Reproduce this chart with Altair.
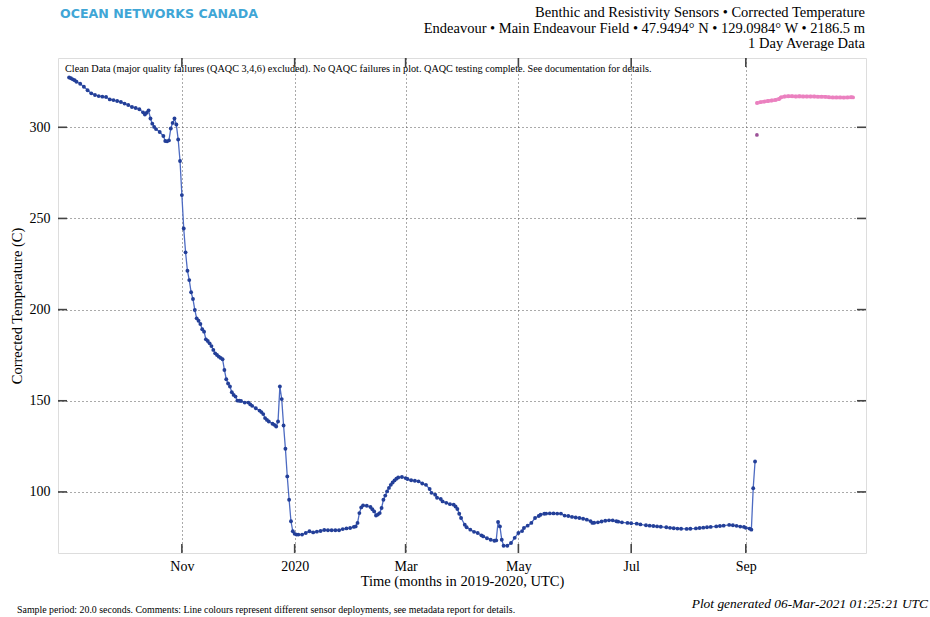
import altair as alt
import pandas as pd

# ---------------- data ----------------
blue_dates = [
    "2019-09-01", "2019-09-02", "2019-09-03", "2019-09-04", "2019-09-05", "2019-09-07", "2019-09-09",
    "2019-09-11", "2019-09-13", "2019-09-15", "2019-09-17", "2019-09-19", "2019-09-21", "2019-09-23",
    "2019-09-25", "2019-09-27", "2019-09-29", "2019-10-01", "2019-10-03", "2019-10-05", "2019-10-07",
    "2019-10-09", "2019-10-11", "2019-10-12", "2019-10-13", "2019-10-14", "2019-10-15", "2019-10-16",
    "2019-10-17", "2019-10-18", "2019-10-20", "2019-10-22", "2019-10-23", "2019-10-24", "2019-10-25",
    "2019-10-26", "2019-10-27", "2019-10-28", "2019-10-29", "2019-10-30", "2019-10-31",
    "2019-11-01", "2019-11-02", "2019-11-03", "2019-11-04", "2019-11-05", "2019-11-06", "2019-11-07",
    "2019-11-08", "2019-11-09", "2019-11-10", "2019-11-11", "2019-11-12", "2019-11-13", "2019-11-14",
    "2019-11-15", "2019-11-16", "2019-11-17", "2019-11-18", "2019-11-19", "2019-11-20", "2019-11-21",
    "2019-11-22", "2019-11-23", "2019-11-24", "2019-11-25", "2019-11-26", "2019-11-27", "2019-11-28",
    "2019-11-29", "2019-11-30", "2019-12-01", "2019-12-02", "2019-12-03", "2019-12-05", "2019-12-07",
    "2019-12-08", "2019-12-09", "2019-12-11", "2019-12-13", "2019-12-14", "2019-12-15", "2019-12-16",
    "2019-12-17", "2019-12-18", "2019-12-20", "2019-12-21", "2019-12-22", "2019-12-23", "2019-12-24",
    "2019-12-25", "2019-12-26", "2019-12-27", "2019-12-28", "2019-12-29", "2019-12-30", "2019-12-31",
    "2020-01-01", "2020-01-02", "2020-01-03", "2020-01-05", "2020-01-07", "2020-01-09", "2020-01-11",
    "2020-01-13", "2020-01-15", "2020-01-17", "2020-01-19", "2020-01-21", "2020-01-23", "2020-01-25",
    "2020-01-27", "2020-01-29", "2020-01-31", "2020-02-02", "2020-02-03", "2020-02-04", "2020-02-05",
    "2020-02-06", "2020-02-07", "2020-02-09", "2020-02-11", "2020-02-12", "2020-02-13", "2020-02-14",
    "2020-02-15", "2020-02-16", "2020-02-17", "2020-02-18", "2020-02-19", "2020-02-20", "2020-02-21",
    "2020-02-22", "2020-02-23", "2020-02-24", "2020-02-25", "2020-02-26", "2020-02-28", "2020-03-01",
    "2020-03-02", "2020-03-04", "2020-03-06", "2020-03-08", "2020-03-10", "2020-03-12", "2020-03-14",
    "2020-03-15", "2020-03-17", "2020-03-18", "2020-03-20", "2020-03-21", "2020-03-23", "2020-03-25",
    "2020-03-27", "2020-03-28", "2020-03-29", "2020-03-30", "2020-03-31", "2020-04-02", "2020-04-03",
    "2020-04-05", "2020-04-07", "2020-04-09", "2020-04-11", "2020-04-12", "2020-04-14", "2020-04-16",
    "2020-04-18", "2020-04-19", "2020-04-20", "2020-04-21", "2020-04-22", "2020-04-23", "2020-04-25",
    "2020-04-27", "2020-04-29", "2020-05-01", "2020-05-03", "2020-05-04", "2020-05-06", "2020-05-08",
    "2020-05-10", "2020-05-12", "2020-05-13", "2020-05-15", "2020-05-16", "2020-05-18", "2020-05-20",
    "2020-05-22", "2020-05-24", "2020-05-26", "2020-05-28", "2020-05-30", "2020-06-01", "2020-06-03",
    "2020-06-05", "2020-06-07", "2020-06-09", "2020-06-10", "2020-06-11", "2020-06-13", "2020-06-15",
    "2020-06-17", "2020-06-19", "2020-06-21", "2020-06-23", "2020-06-24", "2020-06-26", "2020-06-29",
    "2020-07-01", "2020-07-04", "2020-07-06", "2020-07-09", "2020-07-11", "2020-07-13", "2020-07-15",
    "2020-07-17", "2020-07-20", "2020-07-22", "2020-07-24", "2020-07-26", "2020-07-28", "2020-07-31",
    "2020-08-02", "2020-08-05", "2020-08-07", "2020-08-09", "2020-08-11", "2020-08-13", "2020-08-16",
    "2020-08-18", "2020-08-20", "2020-08-23", "2020-08-25", "2020-08-27", "2020-08-29", "2020-08-31",
    "2020-09-01", "2020-09-03", "2020-09-04", "2020-09-05", "2020-09-06",
]
blue_values = [
    327.3, 326.9, 326.3, 325.8, 325.0, 323.9, 322.2,
    320.3, 318.6, 317.7, 317.1, 316.8, 316.6, 315.3,
    314.9, 314.4, 313.9, 313.0, 312.2, 311.1, 310.6,
    309.9, 308.2, 307.0, 308.0, 309.3, 304.8, 302.0,
    300.2, 299.0, 297.4, 295.2, 292.5, 292.3, 292.8,
    299.3, 302.4, 304.8, 301.5, 293.3, 281.5,
    262.8, 244.5, 231.4, 221.3, 216.2, 209.5, 205.8,
    199.8, 195.2, 193.9, 192.1, 189.2, 187.9, 183.7,
    182.8, 181.5, 180.0, 177.9, 176.0, 175.1, 174.2,
    173.5, 172.8, 166.9, 161.8, 159.5, 157.8, 154.7,
    153.2, 152.3, 150.1, 150.0, 149.9, 149.0, 149.0,
    148.0, 147.2, 145.9, 144.6, 143.8, 142.7, 140.5,
    139.5, 138.6, 137.4, 136.8, 135.9, 138.6, 157.8,
    150.9, 136.4, 123.7, 108.5, 95.7, 83.9, 78.4,
    77.0, 76.6, 76.6, 76.6, 77.5, 78.4, 77.8,
    78.2, 78.6, 79.1, 79.0, 79.0, 79.0, 79.0,
    79.6, 80.0, 80.2, 80.8, 81.1, 83.0, 88.4,
    91.5, 92.6, 92.4, 91.7, 90.5, 89.3, 87.1,
    87.6, 88.4, 91.2, 95.7, 98.0, 100.3, 102.2,
    103.9, 105.2, 106.3, 107.2, 107.9, 108.2, 107.6,
    107.1, 106.4, 106.1, 105.8, 104.6, 103.9, 101.6,
    99.5, 98.5, 96.8, 96.1, 94.8, 94.0, 93.3,
    93.0, 92.0, 90.6, 88.0, 85.7, 82.0, 80.6,
    79.3, 78.1, 77.5, 76.2, 75.6, 74.6, 73.8,
    73.2, 73.4, 83.5, 81.1, 73.8, 70.5, 70.5,
    72.0, 74.8, 77.5, 78.5, 80.2, 81.5, 83.0,
    85.7, 86.8, 87.5, 88.0, 88.1, 88.2, 88.2,
    88.1, 88.1, 87.0, 86.8, 86.3, 86.0, 85.7,
    85.3, 84.8, 84.0, 83.0, 83.1, 83.3, 83.8,
    84.2, 84.4, 84.4, 83.9, 83.7, 83.3, 83.0,
    82.8, 82.6, 82.2, 81.7, 81.5, 81.3, 81.1,
    80.9, 80.6, 80.3, 80.1, 79.9, 79.8, 79.7,
    79.8, 80.0, 80.2, 80.4, 80.6, 80.8, 81.1,
    81.3, 81.5, 81.9, 81.7, 81.4, 81.0, 80.8,
    80.3, 79.9, 79.3, 102.0, 116.7,
]

pink_dates = [
    "2020-09-07", "2020-09-09", "2020-09-11", "2020-09-13", "2020-09-15", "2020-09-17", "2020-09-19",
    "2020-09-20", "2020-09-22", "2020-09-24", "2020-09-26", "2020-09-28", "2020-09-30", "2020-10-02",
    "2020-10-04", "2020-10-06", "2020-10-08", "2020-10-10", "2020-10-12", "2020-10-14", "2020-10-16",
    "2020-10-18", "2020-10-20", "2020-10-22", "2020-10-24", "2020-10-26", "2020-10-28", "2020-10-29",
]
pink_values = [
    313.3, 313.8, 314.1, 314.4, 314.7, 315.0, 315.5,
    316.4, 316.9, 317.0, 317.0, 316.9, 317.0, 316.9,
    316.9, 316.9, 316.9, 316.8, 316.8, 316.7, 316.5,
    316.4, 316.4, 316.4, 316.3, 316.4, 316.5, 316.4,
]

purple_dates = ["2020-09-07"]
purple_values = [295.8]

y_tick_values = [100, 150, 200, 250, 300]
x_tick_dates = ["2019-11-01", "2020-01-01", "2020-03-01", "2020-05-01", "2020-07-01", "2020-09-01"]

title_lines = [
    "Benthic and Resistivity Sensors \u2022 Corrected Temperature",
    "Endeavour \u2022 Main Endeavour Field \u2022 47.9494\u00b0 N \u2022 129.0984\u00b0 W \u2022 2186.5 m",
    "1 Day Average Data",
]
logo_text = "OCEAN NETWORKS CANADA"
note_text = ("Clean Data (major quality failures (QAQC 3,4,6) excluded).  No QAQC failures in plot.  "
             "QAQC testing complete.  See documentation for details.")
footer_left = ("Sample period: 20.0 seconds. Comments: Line colours represent different sensor deployments, "
               "see metadata report for details.")
footer_right = "Plot generated 06-Mar-2021 01:25:21 UTC"

# ---------------- layout ----------------
W, H = 808, 495
SERIF = "Liberation Serif"
X_START = pd.Timestamp("2019-08-26")
X_END = pd.Timestamp("2020-11-05")
Y_MIN, Y_MAX = 66.5, 338.0
TICK_PX = 9
tick_days = TICK_PX * (X_END - X_START).days / W          # tick length in days
tick_units = TICK_PX * (Y_MAX - Y_MIN) / H                 # tick length in degrees

blue_df = pd.DataFrame({"date": blue_dates, "value": blue_values})
pink_df = pd.DataFrame({"date": pink_dates, "value": pink_values})
purple_df = pd.DataFrame({"date": purple_dates, "value": purple_values})

x0 = X_START.strftime("%Y-%m-%dT%H:%M:%S")
x0b = (X_START + pd.Timedelta(days=tick_days)).strftime("%Y-%m-%dT%H:%M:%S")
x1 = X_END.strftime("%Y-%m-%dT%H:%M:%S")
x1b = (X_END - pd.Timedelta(days=tick_days)).strftime("%Y-%m-%dT%H:%M:%S")
ytick_df = pd.DataFrame({
    "tv": y_tick_values * 2,
    "ta": [x0] * len(y_tick_values) + [x1b] * len(y_tick_values),
    "tb": [x0b] * len(y_tick_values) + [x1] * len(y_tick_values),
})
xtick_df = pd.DataFrame({
    "td": x_tick_dates * 2,
    "ya": [Y_MIN] * len(x_tick_dates) + [Y_MAX - tick_units] * len(x_tick_dates),
    "yb": [Y_MIN + tick_units] * len(x_tick_dates) + [Y_MAX] * len(x_tick_dates),
})

xscale = alt.Scale(type="utc",
                   domain=[alt.DateTime(year=2019, month=8, date=26, utc=True),
                           alt.DateTime(year=2020, month=11, date=5, utc=True)])
yscale = alt.Scale(domain=[Y_MIN, Y_MAX], nice=False, zero=False)

x_axis = alt.Axis(
    values=[alt.DateTime(year=int(d[:4]), month=int(d[5:7]), date=1, utc=True) for d in x_tick_dates],
    labelExpr="utcFormat(datum.value, '%m') == '01' ? utcFormat(datum.value, '%Y') : utcFormat(datum.value, '%b')",
    grid=True, gridDash=[1, 3], gridColor="#555", gridWidth=1,
    tickSize=0, domain=False, labelFont=SERIF, labelFontSize=14, labelColor="black",
    labelPadding=6, title="Time (months in 2019-2020, UTC)", titleFont=SERIF, titleFontSize=14.5,
    titleFontWeight="normal", titleColor="black", titlePadding=1,
)
y_axis = alt.Axis(
    values=y_tick_values, grid=True, gridDash=[1, 3], gridColor="#555", gridWidth=1,
    tickSize=0, domain=False, labelFont=SERIF, labelFontSize=14, labelColor="black",
    labelPadding=8, title="Corrected Temperature (C)", titleFont=SERIF, titleFontSize=14.5,
    titleFontWeight="normal", titleColor="black", titlePadding=5,
)

X = alt.X("date:T", scale=xscale, axis=x_axis)
Y = alt.Y("value:Q", scale=yscale, axis=y_axis)

blue_line = alt.Chart(blue_df).mark_line(color="#4d6bc2", strokeWidth=1.3).encode(x=X, y=Y)
blue_pts = alt.Chart(blue_df).mark_circle(color="#233f98", size=15, opacity=1).encode(x=X, y=Y)
pink_line = alt.Chart(pink_df).mark_line(color="#f08fc8", strokeWidth=3.5).encode(x=X, y=Y)
pink_pts = alt.Chart(pink_df).mark_circle(color="#ea80bf", size=15, opacity=1).encode(x=X, y=Y)
purple_pt = alt.Chart(purple_df).mark_circle(color="#9c5298", size=14, opacity=1).encode(x=X, y=Y)

tick_color = "#444"
ytick_layer = alt.Chart(ytick_df).mark_rule(color=tick_color, strokeWidth=1.6).encode(
    y=alt.Y("tv:Q", scale=yscale, axis=y_axis),
    x=alt.X("ta:T", scale=xscale, axis=x_axis),
    x2="tb:T",
)
xtick_layer = alt.Chart(xtick_df).mark_rule(color=tick_color, strokeWidth=1.6).encode(
    x=alt.X("td:T", scale=xscale, axis=x_axis),
    y=alt.Y("ya:Q", scale=yscale, axis=y_axis),
    y2="yb:Q",
)


def text_layer(txt, x, y, align="left", size=13, font=SERIF, color="black", weight="normal", style="normal"):
    df = pd.DataFrame({"t": [txt]})
    return alt.Chart(df).mark_text(
        align=align, baseline="middle", fontSize=size, font=font, color=color,
        fontWeight=weight, fontStyle=style,
    ).encode(text="t:N", x=alt.value(x), y=alt.value(y))


texts = [
    text_layer(logo_text, 2, -44, size=12.6, font="DejaVu Sans", color="#3fa6d6", weight="bold"),
    text_layer(title_lines[0], W - 1, -45, align="right", size=14.5),
    text_layer(title_lines[1], W - 1, -29.5, align="right", size=14.5),
    text_layer(title_lines[2], W - 1, -14, align="right", size=14.5),
    text_layer(note_text, 7, 11, size=10.2),
    text_layer(footer_left, -41, 552, size=9.9),
    text_layer(footer_right, 870, 546, align="right", size=13.4, style="italic"),
]

chart = alt.layer(
    blue_line, blue_pts, pink_line, pink_pts, purple_pt,
    *texts, ytick_layer, xtick_layer,
).properties(
    width=W, height=H,
    autosize=alt.AutoSizeParams(type="none"),
    padding={"left": 58, "top": 58, "right": 64, "bottom": 64},
).configure_view(
    stroke="#555", strokeWidth=1.5,
).configure(background="white")

chart.save("out.html", embed_options={"renderer": "svg", "actions": False})
